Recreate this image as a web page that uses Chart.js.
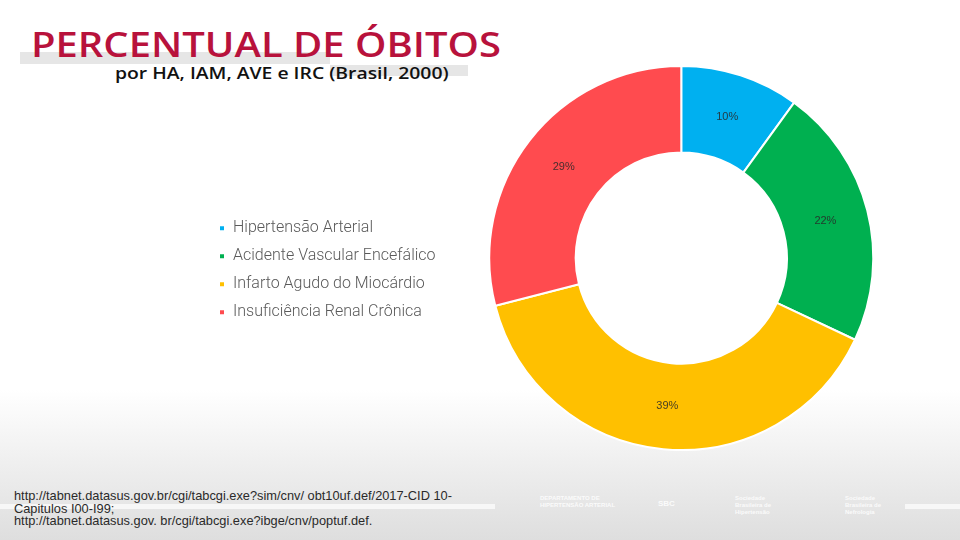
<!DOCTYPE html>
<html>
<head>
<meta charset="utf-8">
<script src="https://cdn.jsdelivr.net/npm/chart.js@4/dist/chart.umd.min.js"></script>
<style>
  html, body { margin: 0; padding: 0; }
  body {
    width: 960px; height: 540px; position: relative; overflow: hidden;
    background: linear-gradient(to bottom, #ffffff 0px, #ffffff 390px, #e9e9e9 490px, #dedede 540px);
    font-family: "Liberation Sans", sans-serif;
  }
  .strip { position: absolute; background: #e6e6e6; }
  .title {
    position: absolute; left: 31px; top: 21px; margin: 0;
    font-family: "Open Sans", sans-serif; font-weight: 600; font-size: 34px;
    color: #b8123c; white-space: nowrap;
    transform: scaleX(1.175); transform-origin: left top;
  }
  .subtitle {
    position: absolute; left: 115px; top: 62px;
    font-family: "Open Sans", sans-serif; font-weight: 600; font-size: 16px;
    color: #111; white-space: nowrap;
    transform: scaleX(1.21); transform-origin: left top;
  }
  #wrap { position: absolute; left: 207px; top: 65px; width: 710px; height: 386px; }
  .src {
    position: absolute; left: 14px; top: 490px; font-size: 12.8px; line-height: 12.5px;
    color: #2a2a2a; font-family: "Liberation Sans", sans-serif;
  }
  .white { position: absolute; background: #f7f7f7; height: 5px; top: 504px; }
  .logo { position: absolute; color: #fbfbfb; font-size: 6px; line-height: 7px; font-weight: bold; }
</style>
</head>
<body>
<div class="strip" style="left:20px; top:52px; width:310px; height:12px;"></div>
<div class="strip" style="left:330px; top:65px; width:138px; height:11px;"></div>
<h1 class="title">PERCENTUAL DE ÓBITOS</h1>
<div class="subtitle">por HA, IAM, AVE e IRC (Brasil, 2000)</div>

<div id="wrap"><canvas id="donut"></canvas></div>

<div class="white" style="left:0; width:495px;"></div>
<div class="white" style="left:905px; width:55px;"></div>
<div class="src">http://tabnet.datasus.gov.br/cgi/tabcgi.exe?sim/cnv/ obt10uf.def/2017-CID 10-<br>Capitulos I00-I99;<br>http://tabnet.datasus.gov. br/cgi/tabcgi.exe?ibge/cnv/poptuf.def.</div>
<div class="logo" style="left:540px; top:495px;">DEPARTAMENTO DE<br>HIPERTENSÃO ARTERIAL</div>
<div class="logo" style="left:658px; top:500px; font-size:8px;">SBC</div>
<div class="logo" style="left:735px; top:495px;">Sociedade<br>Brasileira de<br>Hipertensão</div>
<div class="logo" style="left:845px; top:495px;">Sociedade<br>Brasileira de<br>Nefrologia</div>

<script>
const categories = ['Hipertensão Arterial', 'Acidente Vascular Encefálico', 'Infarto Agudo do Miocárdio', 'Insuficiência Renal Crônica'];
const percentages = [10, 22, 39, 29];
const sliceColors = ['#00b0f0', '#00b050', '#ffc000', '#ff4b4f'];

// rótulos de porcentagem no meio de cada fatia
const sliceLabels = {
    id: 'sliceLabels',
    afterDatasetsDraw(chart) {
        const ctx = chart.ctx;
        const meta = chart.getDatasetMeta(0);
        ctx.save();
        ctx.font = '11px "Liberation Sans", sans-serif';
        ctx.fillStyle = 'rgba(40,40,40,0.85)';
        ctx.textAlign = 'center';
        ctx.textBaseline = 'middle';
        meta.data.forEach((arc, i) => {
            const p = arc.getCenterPoint();
            ctx.fillText(chart.data.datasets[0].data[i] + '%', p.x, p.y);
        });
        ctx.restore();
    }
};

new Chart(document.getElementById('donut').getContext('2d'), {
    type: 'doughnut',
    data: {
        labels: categories,
        datasets: [{
            data: percentages,
            backgroundColor: sliceColors,
            borderColor: '#ffffff',
            borderWidth: 2
        }]
    },
    options: {
        responsive: true,
        maintainAspectRatio: false,
        animation: false,
        cutout: '55%',
        layout: { padding: 0 },
        plugins: {
            tooltip: { enabled: false },
            legend: {
                display: true,
                position: 'left',
                title: { display: true, text: ' ', padding: { top: 0, bottom: 10 } },
                labels: {
                    boxWidth: 6,
                    boxHeight: 6,
                    padding: 12,
                    color: '#595959',
                    font: { family: 'Roboto', weight: '300', size: 16 }
                }
            }
        }
    },
    plugins: [sliceLabels]
});
</script>
</body>
</html>
